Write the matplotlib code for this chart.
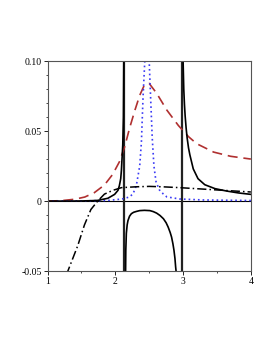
import numpy as np
import matplotlib.pyplot as plt

# -- values -------------------------------------------------------------------
# black solid, three branches (poles near x=2.13 and x=2.98)
solid_l_x = [1.00, 1.30, 1.50, 1.65, 1.74, 1.89, 1.99, 2.04, 2.06, 2.08, 2.09, 2.10, 2.11, 2.12, 2.128]
solid_l_y = [0.0, 0.0, 0.0001, 0.0003, 0.0005, 0.002, 0.0048, 0.0077, 0.0110, 0.0160, 0.022, 0.031, 0.040, 0.060, 0.12]

solid_m_x = [2.150, 2.155, 2.163, 2.175, 2.187, 2.21, 2.237, 2.27, 2.31, 2.36, 2.43, 2.51, 2.56, 2.61, 2.66, 2.71, 2.75, 2.78, 2.81, 2.83, 2.85, 2.865, 2.88, 2.89, 2.905]
solid_m_y = [-0.06, -0.035, -0.023, -0.0170, -0.0139, -0.0108, -0.0090, -0.0080, -0.0074, -0.0068, -0.0066, -0.0068, -0.0075, -0.0086, -0.0103, -0.0126, -0.0155, -0.0186, -0.0225, -0.0257, -0.0305, -0.0350, -0.0410, -0.0470, -0.0540]

solid_r_x = [2.995, 3.00, 3.01, 3.02, 3.03, 3.045, 3.06, 3.08, 3.10, 3.15, 3.22, 3.32, 3.47, 3.64, 3.82, 4.00]
solid_r_y = [0.12, 0.10, 0.080, 0.069, 0.061, 0.052, 0.045, 0.038, 0.033, 0.023, 0.016, 0.0117, 0.0089, 0.0072, 0.0058, 0.0048]

# red dashed
red_x = [1.00, 1.20, 1.40, 1.55, 1.69, 1.84, 1.96, 2.06, 2.14, 2.21, 2.29, 2.36, 2.43, 2.50, 2.61, 2.76, 2.93, 3.08, 3.20, 3.45, 3.70, 4.00]
red_y = [0.0, 0.0003, 0.0013, 0.0029, 0.0060, 0.0115, 0.019, 0.028, 0.039, 0.052, 0.065, 0.0755, 0.083, 0.084, 0.077, 0.065, 0.054, 0.046, 0.041, 0.035, 0.032, 0.030]

# blue dotted
blue_x = [1.00, 1.50, 1.90, 2.10, 2.20, 2.26, 2.31, 2.36, 2.385, 2.41, 2.435, 2.47, 2.50, 2.52, 2.545, 2.57, 2.60, 2.65, 2.71, 2.76, 2.95, 3.30, 4.00]
blue_y = [0.0, 0.0001, 0.0005, 0.0015, 0.0028, 0.005, 0.011, 0.025, 0.042, 0.075, 0.100, 0.160, 0.100, 0.075, 0.045, 0.025, 0.014, 0.008, 0.005, 0.003, 0.0015, 0.0008, 0.0004]

# black dash-dot
dd_x = [1.28, 1.30, 1.445, 1.545, 1.64, 1.74, 1.84, 1.96, 2.09, 2.30, 2.50, 2.70, 2.95, 3.45, 4.00]
dd_y = [-0.053, -0.050, -0.032, -0.017, -0.0060, 0.0000, 0.0050, 0.0076, 0.0096, 0.0102, 0.0105, 0.0102, 0.0096, 0.0081, 0.0065]

poles = [2.13, 2.983]

xticks = [1, 2, 3, 4]
yticks = [-0.05, 0, 0.05, 0.10]
ytick_labels = ['-0.05', '0', '0.05', '0.10']

# -- plot ----------------------------------------------------------------------
plt.rcParams['font.family'] = ['Liberation Serif', 'DejaVu Serif']

fig = plt.figure(figsize=(2.73, 3.53), dpi=100)
ax = fig.add_axes([0.174, 0.232, 0.745, 0.595])

ax.axhline(0, color='black', lw=0.8)
for p in poles:
    ax.axvline(p, color='#222222', lw=1.6)

ax.plot(red_x, red_y, color='#b03030', lw=1.2, ls=(0, (6, 3.5)))
ax.plot(blue_x, blue_y, color='#3a3af5', lw=1.2, ls=(0, (1, 1.8)))
ax.plot(dd_x, dd_y, color='black', lw=1.1, ls=(0, (6, 2, 1, 2)))
ax.plot(solid_l_x, solid_l_y, color='black', lw=1.2)
ax.plot(solid_m_x, solid_m_y, color='black', lw=1.2)
ax.plot(solid_r_x, solid_r_y, color='black', lw=1.2)

ax.set_xlim(1, 4)
ax.set_ylim(-0.05, 0.10)
ax.set_xticks(xticks)
ax.set_xticklabels([str(t) for t in xticks])
ax.set_xticks([1.5, 2.5, 3.5], minor=True)
ax.set_yticks(yticks)
ax.set_yticklabels(ytick_labels)
ax.set_yticks(np.arange(-0.04, 0.10, 0.01), minor=True)
ax.tick_params(labelsize=7, length=3, width=0.6, pad=1)
ax.tick_params(which='minor', length=1.5, width=0.5)
for s in ax.spines.values():
    s.set_color('#555555')
    s.set_linewidth(0.8)

fig.savefig('out.png', dpi=100)
